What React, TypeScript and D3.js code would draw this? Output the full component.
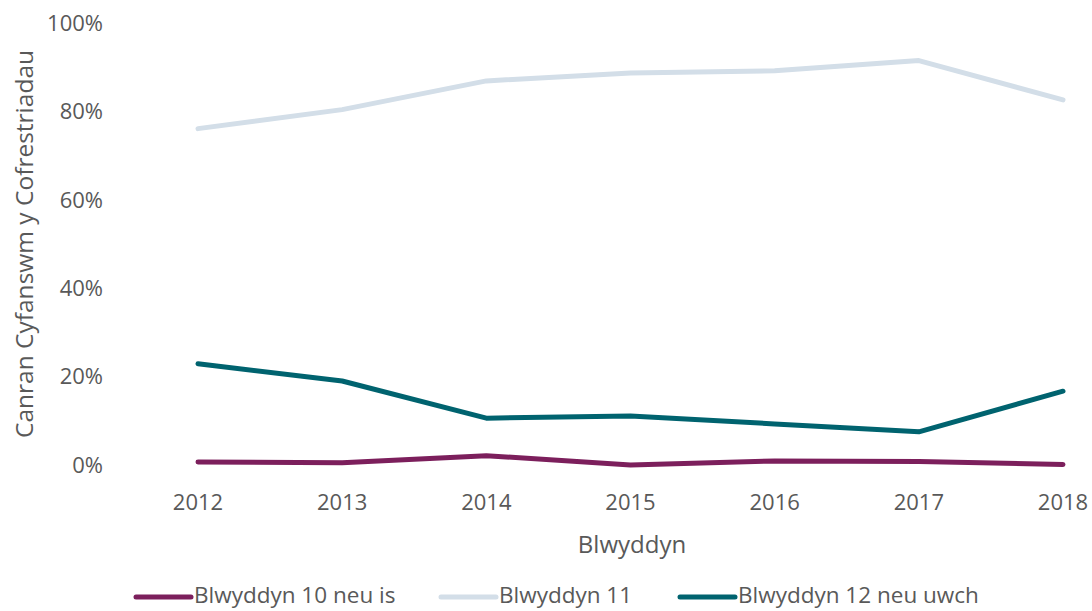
import { useEffect, useRef } from 'react'
import * as d3 from 'd3'

const years = ['2012', '2013', '2014', '2015', '2016', '2017', '2018']
const year10 = [0.007, 0.005, 0.021, 0.0, 0.009, 0.008, 0.001]
const year11 = [0.761, 0.804, 0.869, 0.887, 0.892, 0.915, 0.826]
const year12 = [0.229, 0.19, 0.106, 0.111, 0.093, 0.075, 0.167]
const yTicks = [0, 0.2, 0.4, 0.6, 0.8, 1]

const seriesNames = ['Blwyddyn 10 neu is', 'Blwyddyn 11', 'Blwyddyn 12 neu uwch']
const seriesColors = ['#7c1f5c', '#d3dee8', '#00636f']

const W = 1092
const H = 611
const FONT = '"Open Sans", "Noto Sans", sans-serif'
const TEXT = '#595959'

export default function App() {
  const ref = useRef<SVGSVGElement>(null)

  useEffect(() => {
    const svg = d3.select(ref.current)
    svg.selectAll('*').remove()

    const x = d3.scalePoint().domain(years).range([198, 1063])
    const y = d3.scaleLinear().domain([0, 1]).range([465, 23])

    // y tick labels
    svg.append('g')
      .selectAll('text')
      .data(yTicks)
      .join('text')
      .attr('x', 103)
      .attr('y', d => y(d))
      .attr('dy', '0.35em')
      .attr('text-anchor', 'end')
      .attr('fill', TEXT)
      .style('font-size', '22px')
      .text(d => d3.format('.0%')(d))

    // x tick labels
    svg.append('g')
      .selectAll('text')
      .data(years)
      .join('text')
      .attr('x', d => x(d)!)
      .attr('y', 502)
      .attr('dy', '0.35em')
      .attr('text-anchor', 'middle')
      .attr('fill', TEXT)
      .style('font-size', '22px')
      .text(d => d)

    // axis titles
    svg.append('text')
      .attr('x', 632)
      .attr('y', 545)
      .attr('dy', '0.35em')
      .attr('text-anchor', 'middle')
      .attr('fill', TEXT)
      .style('font-size', '24px')
      .text('Blwyddyn')

    svg.append('text')
      .attr('transform', `translate(24, ${y(0.5)}) rotate(-90)`)
      .attr('dy', '0.35em')
      .attr('text-anchor', 'middle')
      .attr('fill', TEXT)
      .style('font-size', '24.5px')
      .text('Canran Cyfanswm y Cofrestriadau')

    const line = d3.line<number>()
      .x((_, i) => x(years[i])!)
      .y(d => y(d))

    const allSeries = [year10, year11, year12]
    // light series first so the darker ones sit on top
    const order = [1, 2, 0]
    order.forEach(i => {
      svg.append('path')
        .datum(allSeries[i])
        .attr('d', line)
        .attr('fill', 'none')
        .attr('stroke', seriesColors[i])
        .attr('stroke-width', 5)
        .attr('stroke-linecap', 'round')
        .attr('stroke-linejoin', 'round')
    })

    // legend
    const legendX = [136, 441, 680]
    const lg = svg.append('g')
    seriesNames.forEach((name, i) => {
      lg.append('line')
        .attr('x1', legendX[i])
        .attr('x2', legendX[i] + 55)
        .attr('y1', 597)
        .attr('y2', 597)
        .attr('stroke', seriesColors[i])
        .attr('stroke-width', 5)
        .attr('stroke-linecap', 'round')
      lg.append('text')
        .attr('x', legendX[i] + 58)
        .attr('y', 595)
        .attr('dy', '0.35em')
        .attr('fill', TEXT)
        .style('font-size', '22.5px')
        .text(name)
    })
  }, [])

  return (
    <svg
      ref={ref}
      width={W}
      height={H}
      style={{ position: 'absolute', left: 0, top: 0, fontFamily: FONT, background: '#fff' }}
    />
  )
}
